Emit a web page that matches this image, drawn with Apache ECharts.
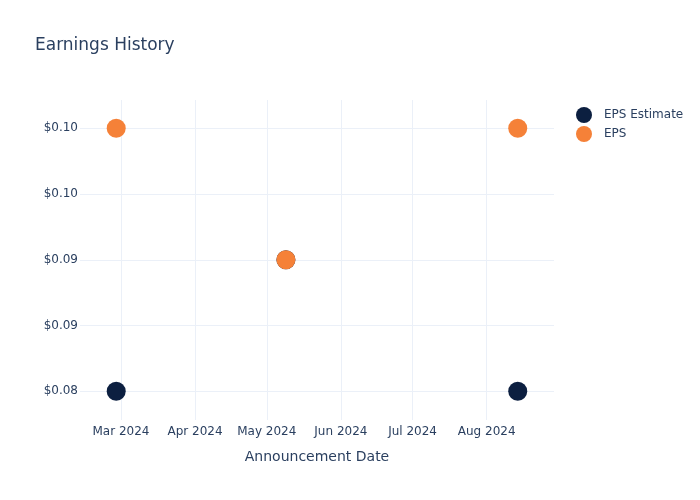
<!DOCTYPE html>
<html>
<head>
<meta charset="utf-8">
<script src="https://cdn.jsdelivr.net/npm/echarts@6/dist/echarts.min.js"></script>
<style>html,body{margin:0;padding:0;background:#fff}#c{width:700px;height:500px}</style>
</head>
<body>
<div id="c"></div>
<script>
// Data
const dates = ['2024-02-28', '2024-05-09', '2024-08-14'];
const epsEstimate = [0.08, 0.09, 0.08];
const eps = [0.10, 0.09, 0.10];
const yTickValues = [0.08, 0.085, 0.09, 0.095, 0.10];
const yTickLabels = ['$0.08', '$0.09', '$0.09', '$0.10', '$0.10'];
const monthNames = ['Jan','Feb','Mar','Apr','May','Jun','Jul','Aug','Sep','Oct','Nov','Dec'];
const xMin = '2024-02-12T20:30:00';
const xMax = '2024-08-29T04:00:00';

const FONT = 'DejaVu Sans, Verdana, sans-serif';
const TXT = '#2a3f5f';
const GRID = '#EBF0F8';

const chart = echarts.init(document.getElementById('c'), null, {renderer: 'canvas'});
const xLabel = v => { const d = new Date(v); return monthNames[d.getMonth()] + ' ' + d.getFullYear(); };
const yLabel = v => {
  const i = Math.round((v - yTickValues[0]) / (yTickValues[1] - yTickValues[0]));
  return yTickLabels[i] !== undefined ? yTickLabels[i] : '';
};

chart.setOption({
  animation: false,
  backgroundColor: '#fff',
  title: {
    text: 'Earnings History', left: 35, top: 37, padding: 0,
    textStyle: {fontFamily: FONT, fontSize: 17, fontWeight: 'normal', color: TXT}
  },
  legend: {
    orient: 'vertical', left: 576, top: 107, padding: 0,
    itemWidth: 30, itemHeight: 16, itemGap: 3, icon: 'circle',
    textStyle: {fontFamily: FONT, fontSize: 12, color: TXT},
    data: ['EPS Estimate', 'EPS']
  },
  grid: [
    {left: 80, right: 146, top: 100, bottom: 80, containLabel: false},
    {left: 80, right: 146, top: 128.3, bottom: 108.7, containLabel: false}
  ],
  xAxis: [
    {
      type: 'time', gridIndex: 0, min: xMin, max: xMax,
      minInterval: 28 * 864e5, maxInterval: 31 * 864e5,
      name: 'Announcement Date', nameLocation: 'middle', nameGap: 30,
      nameTextStyle: {fontFamily: FONT, fontSize: 14, color: TXT},
      axisLine: {show: false}, axisTick: {show: false},
      splitLine: {show: true, showMinLine: false, showMaxLine: false, lineStyle: {color: GRID, width: 1}},
      axisLabel: {formatter: xLabel, fontFamily: FONT, fontSize: 12, color: TXT, margin: 6, hideOverlap: false}
    },
    {
      type: 'time', gridIndex: 1, min: xMin, max: xMax, show: false,
      splitLine: {show: false}
    }
  ],
  yAxis: [
    {type: 'value', gridIndex: 0, min: 0, max: 1, show: false, splitLine: {show: false}},
    {
      type: 'value', gridIndex: 1, min: 0.08, max: 0.10, interval: 0.005,
      axisLine: {show: false}, axisTick: {show: false},
      splitLine: {show: true, lineStyle: {color: GRID, width: 1}},
      axisLabel: {formatter: yLabel, fontFamily: FONT, fontSize: 12, color: TXT, margin: 2}
    }
  ],
  series: [
    {
      name: 'EPS Estimate', type: 'scatter', xAxisIndex: 1, yAxisIndex: 1,
      symbol: 'circle', symbolSize: 19, clip: false,
      itemStyle: {color: '#0c1f40', opacity: 1},
      data: dates.map((d, i) => [d, epsEstimate[i]])
    },
    {
      name: 'EPS', type: 'scatter', xAxisIndex: 1, yAxisIndex: 1,
      symbol: 'circle', symbolSize: 19, clip: false,
      itemStyle: {color: '#f58138', opacity: 1},
      data: dates.map((d, i) => [d, eps[i]])
    }
  ]
});
</script>
</body>
</html>
